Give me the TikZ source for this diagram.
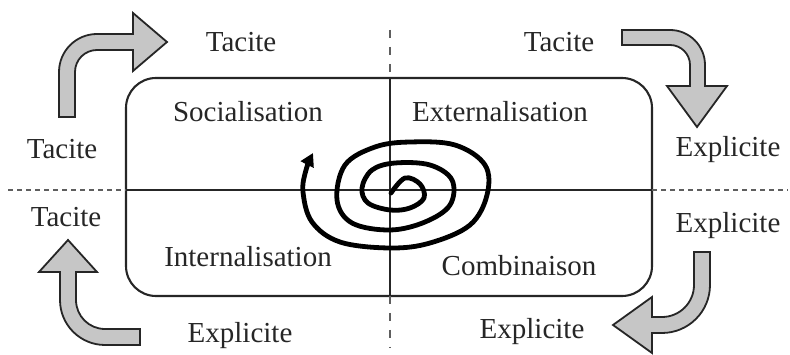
\documentclass[tikz,border=0pt]{standalone}
\usepackage{fontspec}
\setmainfont{Liberation Serif}
\usetikzlibrary{arrows.meta}
\definecolor{ink}{HTML}{262626}
\definecolor{arrowgray}{HTML}{C6C6C6}
\definecolor{dashgray}{HTML}{5E5E5E}
\begin{document}
\begin{tikzpicture}[x=1pt,y=-1pt,
  lbl/.style={font=\fontsize{29}{34}\selectfont, text=ink, anchor=base, inner sep=0pt},
  blockarrow/.style={draw=ink, line width=1.8pt, fill=arrowgray, line join=miter},
  axisline/.style={draw=ink, line width=2.1pt},
  vdash/.style={draw=dashgray, line width=2.4pt, dash pattern=on 8pt off 9pt},
  hdash/.style={draw=dashgray, line width=2.4pt, dash pattern=on 5pt off 4pt},
  spiralline/.style={draw=black, line width=4.8pt, line cap=round, line join=round,
    -{Triangle[length=13pt,width=14pt]}}]
\useasboundingbox (0,0) rectangle (790,355);

% frame and axes
\draw[axisline, rounded corners=30pt] (126,78) rectangle (652,296);
\coordinate (vtop) at (390,30);
\coordinate (vboxtop) at (390,78);
\coordinate (vboxbot) at (390,296);
\coordinate (vbot) at (390,348);
\coordinate (hleft) at (8,190);
\coordinate (hboxleft) at (126,190);
\coordinate (hboxright) at (652,190);
\coordinate (hright) at (788,190);
\draw[axisline] (vboxtop) -- (vboxbot);
\draw[axisline] (hboxleft) -- (hboxright);
\draw[vdash] (vtop) -- (vboxtop);
\draw[vdash] (vboxbot) -- (vbot);
\draw[hdash] (hleft) -- (hboxleft);
\draw[hdash] (hboxright) -- (hright);

% block arrows
% top-left
\draw[blockarrow] (59,117) -- (59,72) arc[start angle=180, end angle=270, radius=38]
  -- (133,34) -- (133,13) -- (167,42) -- (133,71) -- (133,50) -- (97,50)
  arc[start angle=270, end angle=180, radius=22] -- (75,117) -- cycle;
% top-right
\draw[blockarrow] (622,30) -- (670,30) arc[start angle=270, end angle=360, radius=35]
  -- (705,86) -- (727,86) -- (697,127) -- (667,86) -- (690,86) -- (690,65)
  arc[start angle=0, end angle=-90, radius=20] -- (622,45) -- cycle;
% bottom-left
\draw[blockarrow] (140,329) -- (105,329) arc[start angle=90, end angle=180, radius=29]
  -- (76,272) -- (97,272) -- (68,240) -- (39,272) -- (60,272) -- (60,300)
  arc[start angle=180, end angle=90, radius=45] -- (140,345) -- cycle;
% bottom-right
\draw[blockarrow] (694,252) -- (694,285) arc[start angle=0, end angle=90, radius=32]
  -- (652,317) -- (652,297) -- (613,325) -- (652,353) -- (652,333) -- (662,333)
  arc[start angle=90, end angle=0, radius=48] -- (710,252) -- cycle;

% spiral
\draw[spiralline] plot[smooth, tension=0.6] coordinates {
  (391,193) (405,178) (420,184) (424,198) (410,208) (390,210) (368,203) (362,188)
  (372,170) (395,163) (430,165) (452,180) (450,205) (425,222) (390,230) (352,223)
  (337,200) (345,165) (375,147) (410,142) (455,145) (485,165) (487,195) (470,225)
  (430,243) (390,248) (340,242) (312,222) (303,192) (306,170) (313,153)};

% labels
\node[lbl] (t1) at (241,52) {Tacite};
\node[lbl] (t2) at (559,52) {Tacite};
\node[lbl] (soc) at (248,122) {Socialisation};
\node[lbl] (ext) at (500,122) {Externalisation};
\node[lbl] (t3) at (62,159) {Tacite};
\node[lbl] (e1) at (728,157) {Explicite};
\node[lbl] (t4) at (66,227) {Tacite};
\node[lbl] (e2) at (728,233) {Explicite};
\node[lbl] (int) at (248,267) {Internalisation};
\node[lbl] (com) at (519,276) {Combinaison};
\node[lbl] (e3) at (240,343) {Explicite};
\node[lbl] (e4) at (532,338) {Explicite};
\end{tikzpicture}
\end{document}
